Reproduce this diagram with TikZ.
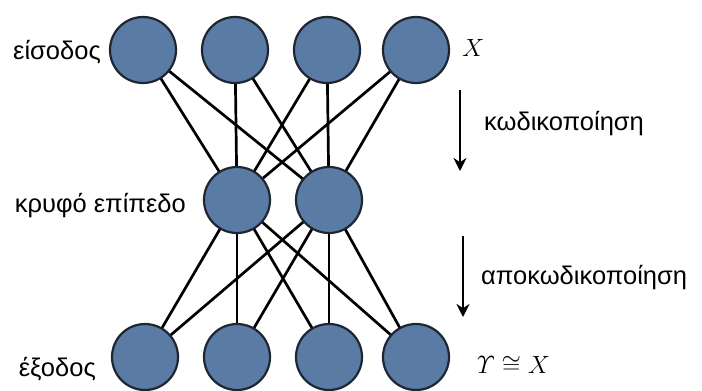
\documentclass[tikz,border=0pt]{standalone}
\usepackage{amsmath}
\usepackage{fontspec}
\setmainfont{Liberation Sans}
\usetikzlibrary{arrows.meta}
\definecolor{nodefill}{HTML}{5A7BA3}
\definecolor{nodeedge}{HTML}{1E2633}
\tikzset{
  neuron/.style={circle,draw=nodeedge,fill=nodefill,line width=2.2pt,minimum size=66pt,inner sep=0pt},
  conn/.style={line width=2.7pt,black},
  lbl/.style={font=\fontsize{25.5}{27}\selectfont,inner sep=0pt},
  mth/.style={font=\fontsize{27}{29}\selectfont,inner sep=0pt},
  flow/.style={line width=2.6pt,-{Stealth[length=13pt,width=13pt]}}
}
\begin{document}
\begin{tikzpicture}[x=1pt,y=-1pt]
\useasboundingbox (0,0) rectangle (702,391);
% connectors first
\coordinate (t1) at (143,50);
\coordinate (t2) at (235,50);
\coordinate (t3) at (327,50);
\coordinate (t4) at (416,50);
\coordinate (h1) at (237,200);
\coordinate (h2) at (329,200);
\coordinate (b1) at (145,357);
\coordinate (b2) at (237,357);
\coordinate (b3) at (329,357);
\coordinate (b4) at (416,357);
\foreach \t in {t1,t2,t3,t4} \foreach \h in {h1,h2} \draw[conn] (\t) -- (\h);
\foreach \b in {b1,b2,b3,b4} \foreach \h in {h1,h2} \draw[conn] (\h) -- (\b);
% nodes
\node[neuron] (T1) at (t1) {};
\node[neuron] (T2) at (t2) {};
\node[neuron] (T3) at (t3) {};
\node[neuron] (T4) at (t4) {};
\node[neuron] (H1) at (h1) {};
\node[neuron] (H2) at (h2) {};
\node[neuron] (B1) at (b1) {};
\node[neuron] (B2) at (b2) {};
\node[neuron] (B3) at (b3) {};
\node[neuron] (B4) at (b4) {};
% labels
\node[lbl,anchor=east] (lin) at (101,52) {είσοδος};
\node[lbl,anchor=east] (lhid) at (186,206) {κρυφό επίπεδο};
\node[lbl,anchor=east] (lout) at (96,369) {έξοδος};
\node[mth,anchor=west] (lx) at (462,48) {$X$};
\node[mth,anchor=west] (ly) at (477,365) {$\varUpsilon\cong X$};
\node[lbl,anchor=west] (lenc) at (484,124) {κωδικοποίηση};
\node[lbl,anchor=west] (ldec) at (481,278) {αποκωδικοποίηση};
% arrows
\coordinate (a1s) at (460,90);
\coordinate (a1e) at (460,171);
\coordinate (a2s) at (463,236);
\coordinate (a2e) at (463,317);
\draw[flow] (a1s) -- (a1e);
\draw[flow] (a2s) -- (a2e);
\end{tikzpicture}
\end{document}
